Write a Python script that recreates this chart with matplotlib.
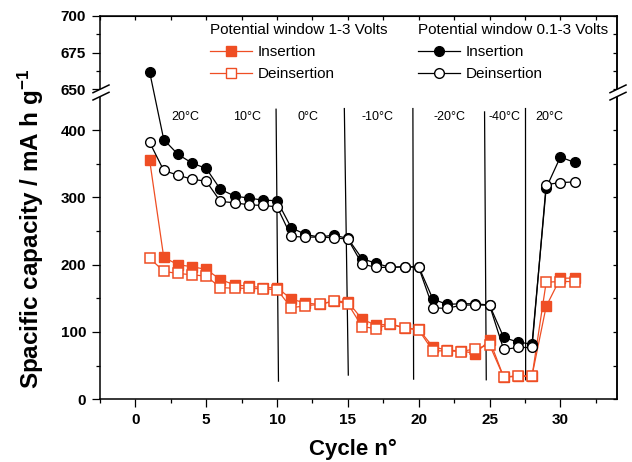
import matplotlib.pyplot as plt
from matplotlib.lines import Line2D
from matplotlib.patches import ConnectionPatch, Polygon
from matplotlib.ticker import MultipleLocator

plt.rcParams['font.family'] = ['Liberation Sans', 'DejaVu Sans']
plt.rcParams['mathtext.fontset'] = 'custom'
plt.rcParams['mathtext.rm'] = 'Liberation Sans:bold'
plt.rcParams['mathtext.bf'] = 'Liberation Sans:bold'
plt.rcParams['mathtext.default'] = 'bf'

# ---- data -------------------------------------------------------------
cycles = list(range(1, 32))

# potential window 1-3 V
ins_13 = [356, 211, 200, 197, 193, 178, 170, 168, 166, 166,
          149, 143, 141, 146, 145, 119, 110, 112, 106, 104,
          78, 73, 72, 68, 88, 33, 35, 35, 138, 180, 180]
deins_13 = [210, 190, 187, 185, 183, 166, 165, 165, 164, 163,
            136, 139, 141, 146, 142, 108, 105, 112, 106, 103,
            72, 72, 71, 75, 81, 33, 34, 34, 174, 175, 175]

# potential window 0.1-3 V
ins_013 = [662, 386, 364, 351, 343, 312, 302, 299, 296, 295,
           255, 245, 241, 244, 239, 209, 202, 196, 197, 197,
           149, 141, 142, 142, 140, 92, 85, 82, 314, 360, 352]
deins_013 = [382, 340, 333, 327, 324, 294, 292, 289, 288, 286,
             242, 241, 241, 240, 238, 201, 196, 196, 197, 196,
             136, 135, 140, 140, 140, 74, 77, 77, 319, 322, 323]

# temperature steps
temps = ['20°C', '10°C', '0°C', '-10°C', '-20°C', '-40°C', '20°C']
temp_x = [3.5, 7.85, 12.2, 17.1, 22.15, 26.05, 29.2]
temp_y = 420
# separator lines (hand drawn, slightly slanted)
sep_x_top = [9.93, 14.75, 19.59, 24.65, 27.54]
sep_x_bot = [10.1, 15.03, 19.64, 24.77, 27.55]
sep_y_top = [431, 432, 432, 427, 432]
sep_y_bot = [27, 36, 30, 29, 29]

RED = '#EF4E24'
W, H = 632, 462

fig = plt.figure(figsize=(W / 100, H / 100), dpi=100)


def fx(px):
    return px / W


def fy(py):
    return 1 - py / H


left, right = fx(100), fx(617)
y_bot, y_brk, y_top = fy(399.3), fy(92), fy(15.7)
ax = fig.add_axes([left, y_bot, right - left, y_brk - y_bot])
ax_up = fig.add_axes([left, y_brk, right - left, y_top - y_brk])

for a in (ax, ax_up):
    a.set_xlim(-2.5, 34)
    for s in a.spines.values():
        s.set_linewidth(1.1)
ax.set_ylim(0, 456.6)
ax_up.set_ylim(648.2, 700)
ax.spines['top'].set_visible(False)
ax_up.spines['bottom'].set_visible(False)

# ---- series -----------------------------------------------------------
lw = 0.9
ax.plot(cycles, ins_13, '-s', color=RED, lw=lw, ms=6.5, mfc=RED, mec=RED, zorder=3)
ax.plot(cycles, deins_13, '-s', color=RED, lw=lw, ms=6.5, mfc='white', mec=RED,
        mew=1.1, zorder=4)
ax.plot(cycles[1:], ins_013[1:], '-o', color='black', lw=lw, ms=7, zorder=5)
ax.plot(cycles, deins_013, '-o', color='black', lw=lw, ms=7, mfc='white',
        mew=1.0, zorder=6)
# first point sits above the axis break
ax_up.plot(cycles[:1], ins_013[:1], 'o', color='black', ms=7, clip_on=False)
con = ConnectionPatch(xyA=(cycles[0], ins_013[0]), coordsA=ax_up.transData,
                      xyB=(cycles[1], ins_013[1]), coordsB=ax.transData,
                      color='black', lw=lw)
fig.add_artist(con)

# temperature regions
for xt, xb, yt, yb in zip(sep_x_top, sep_x_bot, sep_y_top, sep_y_bot):
    ax.plot([xt, xb], [yt, yb], color='black', lw=0.9, zorder=2)
for t, x in zip(temps, temp_x):
    ax.text(x, temp_y, t, fontsize=9, ha='center', va='center')

# ---- ticks ------------------------------------------------------------
ax.xaxis.set_major_locator(MultipleLocator(5))
ax.xaxis.set_minor_locator(MultipleLocator(2.5))
ax.yaxis.set_major_locator(MultipleLocator(100))
ax.yaxis.set_minor_locator(MultipleLocator(50))
ax.set_yticks([0, 100, 200, 300, 400])
ax.tick_params(which='major', direction='out', length=6, width=0.9, pad=4,
               labelsize=11)
ax.tick_params(which='minor', direction='out', length=3.2, width=0.9)
ax_up.set_yticks([650, 675, 700])
ax_up.yaxis.set_minor_locator(MultipleLocator(12.5))
ax_up.tick_params(which='major', direction='out', length=6, width=0.9, pad=4,
                  labelsize=11)
ax_up.tick_params(which='minor', direction='out', length=3.2, width=0.9)
ax_up.tick_params(axis='x', which='both', bottom=False, labelbottom=False)
for a in (ax, ax_up):
    for lab in a.get_xticklabels() + a.get_yticklabels():
        lab.set_fontweight('bold')

# inward ticks on top and right
top = ax_up.secondary_xaxis('top')
top.xaxis.set_major_locator(MultipleLocator(5))
top.xaxis.set_minor_locator(MultipleLocator(2.5))
top.tick_params(which='both', direction='in', length=3, width=0.9, labeltop=False)
for a, maj, mnr in ((ax, 100, 50), (ax_up, 25, 12.5)):
    r = a.secondary_yaxis('right')
    r.yaxis.set_major_locator(MultipleLocator(maj))
    r.yaxis.set_minor_locator(MultipleLocator(mnr))
    r.tick_params(which='both', direction='in', length=3, width=0.9,
                  labelright=False)
    r.spines['right'].set_linewidth(1.1)

# break marks on both side spines
for x0 in (100, 617):
    gap = Polygon([(fx(x0 - 7), fy(92.7)), (fx(x0 + 9), fy(85)),
                   (fx(x0 + 9), fy(92.7)), (fx(x0 - 7), fy(100))],
                  closed=True, transform=fig.transFigure, fc='white',
                  ec='none', zorder=10)
    fig.add_artist(gap)
    for dy in (0, 7.3):
        fig.add_artist(Line2D([fx(x0 - 7), fx(x0 + 9)],
                              [fy(92.7 + dy), fy(85 + dy)],
                              transform=fig.transFigure, color='black',
                              lw=1.1, zorder=11))

# ---- labels -----------------------------------------------------------
fig.text(fx(353), fy(455), 'Cycle n°', fontsize=16, fontweight='bold',
         ha='center', va='baseline')
fig.text(fx(31), fy(229), r'Spacific capacity / mA h g$^{-1}$', fontsize=17.5,
         fontweight='bold', rotation=90, ha='center', va='center')

# ---- legends ----------------------------------------------------------
h13 = [Line2D([], [], color=RED, lw=lw, marker='s', ms=6.5, mfc=RED, mec=RED),
       Line2D([], [], color=RED, lw=lw, marker='s', ms=6.5, mfc='white', mec=RED)]
h013 = [Line2D([], [], color='black', lw=lw, marker='o', ms=7),
        Line2D([], [], color='black', lw=lw, marker='o', ms=7, mfc='white')]
leg_kw = dict(loc='upper left', frameon=False, fontsize=11, title_fontsize=11,
              borderpad=0, borderaxespad=0, handlelength=2.75,
              handletextpad=0.35, labelspacing=0.55, alignment='left',
              bbox_transform=fig.transFigure)
leg1 = ax_up.legend(h13, ['Insertion', 'Deinsertion'],
                    title='Potential window 1-3 Volts',
                    bbox_to_anchor=(fx(210), fy(22.5)), **leg_kw)
ax_up.add_artist(leg1)
ax_up.legend(h013, ['Insertion', 'Deinsertion'],
             title='Potential window 0.1-3 Volts',
             bbox_to_anchor=(fx(418), fy(22.5)), **leg_kw)

fig.savefig('out.png', dpi=100)
